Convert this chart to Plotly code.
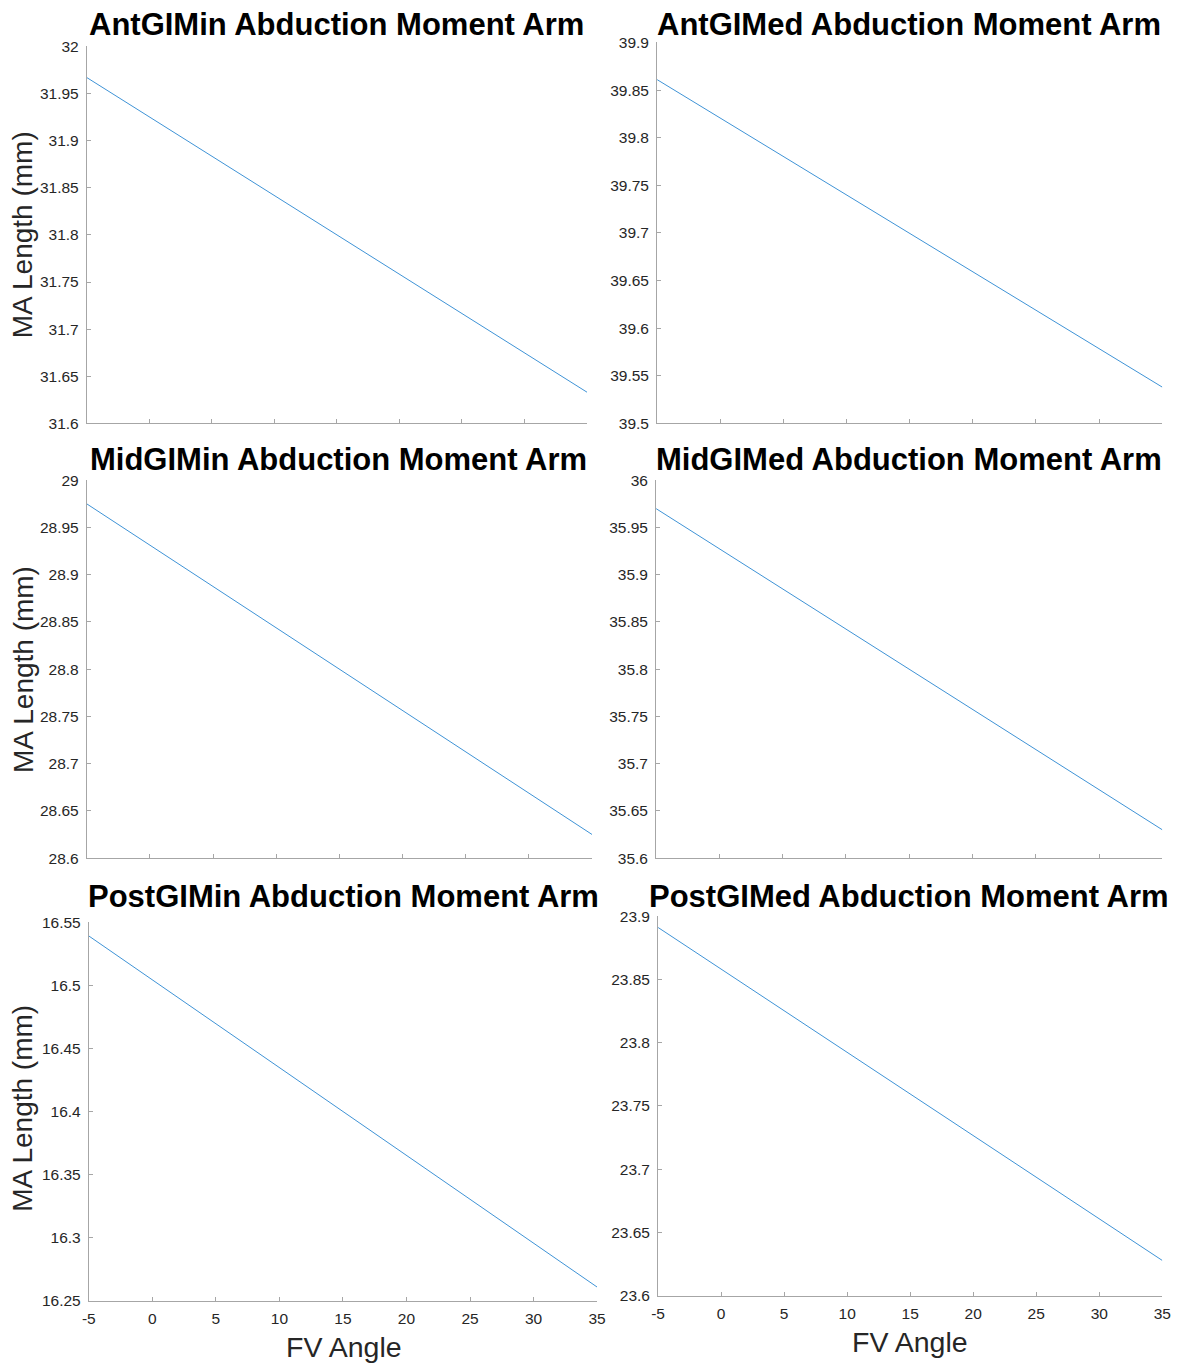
import plotly.graph_objects as go

W, H = 1179, 1365

titles = ["AntGIMin Abduction Moment Arm", "AntGIMed Abduction Moment Arm",
          "MidGIMin Abduction Moment Arm", "MidGIMed Abduction Moment Arm",
          "PostGIMin Abduction Moment Arm", "PostGIMed Abduction Moment Arm"]
fv_angle = [-5, 35]
ant_gimin = [31.967, 31.633]
ant_gimed = [39.861, 39.538]
mid_gimin = [28.975, 28.625]
mid_gimed = [35.970, 35.630]
post_gimin = [16.539, 16.261]
post_gimed = [23.891, 23.628]
series = [ant_gimin, ant_gimed, mid_gimin, mid_gimed, post_gimin, post_gimed]
y_ranges = [[31.6, 32.0], [39.5, 39.9], [28.6, 29.0], [35.6, 36.0], [16.25, 16.55], [23.6, 23.9]]
y_dticks = [0.05] * 6
x_ticks = [-5, 0, 5, 10, 15, 20, 25, 30, 35]
x_tick_labels = ["-5", "0", "5", "10", "15", "20", "25", "30", "35"]


# map target screen pixels to figure fractions (page is drawn slightly offset/scaled)
def fx(x):
    return ((x - 16.2) / 0.986) / W


def fy(y):
    return 1 - ((y - 15.5) / 0.988) / H


# plot-area boxes in screen pixels: left, right, top, bottom
boxes = [(88, 588, 45, 422), (658, 1163, 41, 422),
         (88, 593, 479, 857), (657, 1163, 479, 857),
         (90, 598, 921, 1300), (659, 1163, 915, 1295)]
title_pos = [(338, 23), (910, 23), (340, 458), (910, 458), (345, 895), (910, 895)]

fig = go.Figure()
tick_font = dict(family="Liberation Sans, Arial", size=15.5, color="#262626")
axis_col = "#a6a6a6"
layout = {}
annotations = []
for i in range(6):
    l, r, t, b = boxes[i]
    xa = "x" if i == 0 else f"x{i+1}"
    ya = "y" if i == 0 else f"y{i+1}"
    fig.add_trace(go.Scatter(x=fv_angle, y=series[i], mode="lines",
                             line=dict(color="#3f93d6", width=1),
                             xaxis=xa, yaxis=ya, showlegend=False,
                             hoverinfo="x+y"))
    key_x = "xaxis" if i == 0 else f"xaxis{i+1}"
    key_y = "yaxis" if i == 0 else f"yaxis{i+1}"
    layout[key_x] = dict(domain=[fx(l), fx(r)], anchor=ya, range=[-5, 35],
                         tickvals=x_ticks, ticktext=x_tick_labels,
                         showticklabels=(i >= 4),
                         ticks="inside", ticklen=4, tickcolor=axis_col,
                         ticklabelstandoff=3,
                         showline=True, linecolor=axis_col, linewidth=1,
                         showgrid=False, zeroline=False, tickfont=tick_font)
    layout[key_y] = dict(domain=[fy(b), fy(t)], anchor=xa,
                         range=y_ranges[i], dtick=y_dticks[i], tick0=0,
                         ticks="inside", ticklen=4, tickcolor=axis_col,
                         ticklabelstandoff=4,
                         showline=True, linecolor=axis_col, linewidth=1,
                         showgrid=False, zeroline=False, tickfont=tick_font)
    tx, ty = title_pos[i]
    annotations.append(dict(text="<b>" + titles[i] + "</b>", x=fx(tx), y=fy(ty),
                            xref="paper", yref="paper", showarrow=False,
                            xanchor="center", yanchor="middle",
                            font=dict(family="Liberation Sans, Arial", size=31, color="#000000")))

for yc in [233, 668, 1107]:
    annotations.append(dict(text="MA Length (mm)", x=fx(24), y=fy(yc),
                            xref="paper", yref="paper", showarrow=False, textangle=-90,
                            xanchor="center", yanchor="middle",
                            font=dict(family="Liberation Sans, Arial", size=28, color="#262626")))
for xc, yc in [(345, 1346), (911, 1341)]:
    annotations.append(dict(text="FV Angle", x=fx(xc), y=fy(yc),
                            xref="paper", yref="paper", showarrow=False,
                            xanchor="center", yanchor="middle",
                            font=dict(family="Liberation Sans, Arial", size=28.5, color="#262626")))

fig.update_layout(width=W, height=H, margin=dict(l=0, r=0, t=0, b=0),
                  paper_bgcolor="white", plot_bgcolor="white",
                  annotations=annotations, **layout)
fig.write_html("out.html")
